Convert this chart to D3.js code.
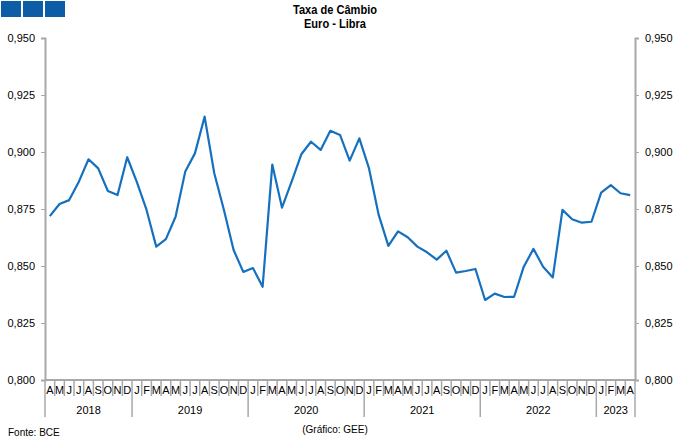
<!DOCTYPE html>
<html><head><meta charset="utf-8">
<script src="https://cdn.jsdelivr.net/npm/d3@7"></script>
<style>body{margin:0;background:#fff}svg{display:block;font-family:"Liberation Sans",Arial,sans-serif}</style>
</head><body><svg id="c" width="680" height="444"></svg>
<script>
const monthLetters = ["J","F","M","A","M","J","J","A","S","O","N","D"];
const years = [2018,2019,2020,2021,2022,2023];
const startMonth = 3; // April 2018 (0-based)
const values = [
 0.8719,0.8772,0.8789,0.8870,0.8968,0.8928,0.8829,0.8811,0.8977,
 0.8868,0.8746,0.8585,0.8618,0.8716,0.8914,0.8994,0.9155,0.8907,0.8746,0.8570,0.8474,
 0.8491,0.8409,0.8945,0.8756,0.8870,0.8990,0.9045,0.9009,0.9093,0.9075,0.8962,0.9060,
 0.8928,0.8724,0.8588,0.8652,0.8626,0.8585,0.8560,0.8528,0.8567,0.8471,0.8478,0.8487,
 0.8351,0.8379,0.8364,0.8365,0.8497,0.8575,0.8497,0.8450,0.8746,0.8705,0.8690,0.8694,
 0.8822,0.8855,0.8819,0.8811
];
const yTicks = [0.800,0.825,0.850,0.875,0.900,0.925,0.950];
const titleLines = ["Taxa de Câmbio","Euro - Libra"];
const source = "Fonte: BCE";
const credit = "(Gráfico: GEE)";

const months = values.map((v,i)=>{const m=(startMonth+i)%12;const y=2018+Math.floor((startMonth+i)/12);return {i,m,y,v,label:monthLetters[m]};});

const svg = d3.select("#c");
const L=45,R=635,T=38,B=380;
const x = d3.scaleBand().domain(months.map(d=>d.i)).range([L,R]).padding(0);
const y = d3.scaleLinear().domain([0.8,0.95]).range([B,T]);
const axisCol="#a8a8a8";
const fmt = d=>d3.format(".3f")(d).replace(".",",");

[0,1,2].forEach(k=>svg.append("rect").attr("x",1+k*22).attr("y",1).attr("width",20).attr("height",16).attr("fill","#0d5ca6"));

svg.selectAll(".tt").data(titleLines).join("text").attr("x",335).attr("y",(d,i)=>14+i*14)
 .attr("text-anchor","middle").attr("font-size",13).attr("font-weight","bold")
 .attr("textLength",(d,i)=>i===0?84:62).attr("lengthAdjust","spacingAndGlyphs").text(d=>d);

const ga=svg.append("g").attr("transform",`translate(${L},0)`).call(d3.axisLeft(y).tickValues(yTicks).tickFormat(fmt).tickSize(4).tickPadding(6));
const gb=svg.append("g").attr("transform",`translate(${R},0)`).call(d3.axisRight(y).tickValues(yTicks).tickFormat(fmt).tickSize(4).tickPadding(6));
[ga,gb].forEach(g=>{g.select(".domain").attr("stroke",axisCol).attr("stroke-width",2);g.selectAll(".tick line").attr("stroke",axisCol);g.selectAll("text").attr("font-size",11).attr("fill","#000").attr("font-family","'Liberation Sans',Arial");});

const gx=svg.append("g").attr("transform",`translate(0,${B})`).call(d3.axisBottom(x).tickFormat(i=>months[i].label).tickSize(0).tickPadding(6));
gx.select(".domain").attr("stroke",axisCol).attr("stroke-width",2).attr("d",`M${L},0H${R}`);
gx.selectAll("text").attr("font-size",11).attr("fill","#000");
const bounds = months.map(d=>x(d.i)).concat([R]);
svg.append("g").selectAll("line").data(bounds).join("line")
 .attr("x1",d=>d).attr("x2",d=>d).attr("y1",B).attr("y2",(d,k)=>{const mm=months[k];return (k===0||k===months.length||(mm&&mm.m===0))?417:396;})
 .attr("stroke",axisCol).attr("stroke-width",1.5);
years.forEach(yr=>{const ms=months.filter(d=>d.y===yr);const x0=x(ms[0].i),x1=x(ms[ms.length-1].i)+x.bandwidth();
 svg.append("text").attr("x",(x0+x1)/2).attr("y",414).attr("text-anchor","middle").attr("font-size",11).text(yr);});

svg.append("path").datum(months).attr("fill","none").attr("stroke","#1570bf").attr("stroke-width",2.2).attr("stroke-linejoin","round")
 .attr("d",d3.line().x(d=>x(d.i)+x.bandwidth()/2).y(d=>y(d.v)));

svg.append("text").attr("x",8).attr("y",436).attr("font-size",10).text(source);
svg.append("text").attr("x",335).attr("y",433).attr("text-anchor","middle").attr("font-size",10).text(credit);
</script></body></html>
